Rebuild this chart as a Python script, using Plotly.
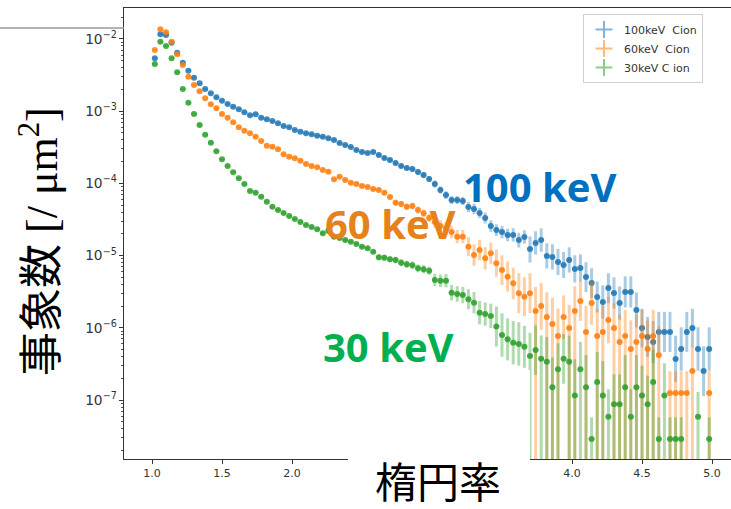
import plotly.graph_objects as go

# bin centres of the ellipticity histogram
x_centers = [1.02, 1.06, 1.10, 1.14, 1.18, 1.22, 1.26, 1.30, 1.34, 1.38,
             1.42, 1.46, 1.50, 1.54, 1.58, 1.62, 1.66, 1.70, 1.74, 1.78,
             1.82, 1.86, 1.90, 1.94, 1.98, 2.02, 2.06, 2.10, 2.14, 2.18,
             2.22, 2.26, 2.30, 2.34, 2.38, 2.42, 2.46, 2.50, 2.54, 2.58,
             2.62, 2.66, 2.70, 2.74, 2.78, 2.82, 2.86, 2.90, 2.94, 2.98,
             3.02, 3.06, 3.10, 3.14, 3.18, 3.22, 3.26, 3.30, 3.34, 3.38,
             3.42, 3.46, 3.50, 3.54, 3.58, 3.62, 3.66, 3.70, 3.74, 3.78,
             3.82, 3.86, 3.90, 3.94, 3.98, 4.02, 4.06, 4.10, 4.14, 4.18,
             4.22, 4.26, 4.30, 4.34, 4.38, 4.42, 4.46, 4.50, 4.54, 4.58,
             4.62, 4.66, 4.70, 4.74, 4.78, 4.82, 4.86, 4.90, 4.94, 4.98]

blue_vals = [5.41e-3, 1.16e-2, 1.135e-2, 8.9e-3, 6.46e-3, 4.70e-3, 3.64e-3, 2.91e-3, 2.43e-3, 2.03e-3,
             1.77e-3, 1.56e-3, 1.40e-3, 1.26e-3, 1.15e-3, 1.06e-3, 9.66e-4, 8.77e-4, 9.06e-4, 8.13e-4,
             7.73e-4, 7.31e-4, 6.79e-4, 6.24e-4, 5.98e-4, 5.50e-4, 5.20e-4, 4.94e-4, 4.79e-4, 4.58e-4,
             4.44e-4, 4.22e-4, 3.99e-4, 3.63e-4, 3.40e-4, 3.19e-4, 2.90e-4, 2.72e-4, 2.64e-4, 2.72e-4,
             2.47e-4, 2.25e-4, 2.11e-4, 1.92e-4, 1.74e-4, 1.63e-4, 1.58e-4, 1.44e-4, 1.31e-4, 1.15e-4,
             9.82e-5, 8.11e-5, 6.90e-5, 5.89e-5, 5.89e-5, 5.70e-5, 4.71e-5, 4.42e-5, 3.89e-5, 3.32e-5,
             2.57e-5, 2.26e-5, 2.12e-5, 1.93e-5, 1.93e-5, 1.64e-5, 1.81e-5, 1.23e-5, 1.50e-5, 1.64e-5,
             9.87e-6, 9.57e-6, 8.15e-6, 7.41e-6, 8.69e-6, 6.52e-6, 6.73e-6, 5.06e-6, 4.17e-6, 2.67e-6,
             2.28e-6, 3.56e-6, 3.03e-6, 2.20e-6, 3.13e-6, 3.13e-6, 1.77e-6, 9.93e-7, 7.46e-7, 6.35e-7,
             8.75e-7, 8.75e-7, 8.75e-7, 3.70e-7, 5.08e-7, 8.75e-7, 9.93e-7, 5.08e-7, 2.52e-7, 5.08e-7]

orange_vals = [7.05e-3, 1.36e-2, 1.24e-2, 9.18e-3, 6.14e-3, 4.37e-3, 3.01e-3, 2.31e-3, 1.89e-3, 1.51e-3,
               1.25e-3, 1.10e-3, 9.15e-4, 8.13e-4, 7.02e-4, 5.98e-4, 5.37e-4, 4.94e-4, 4.44e-4, 3.86e-4,
               3.33e-4, 3.22e-4, 2.96e-4, 2.53e-4, 2.34e-4, 2.23e-4, 2.06e-4, 1.86e-4, 1.74e-4, 1.67e-4,
               1.53e-4, 1.45e-4, 1.14e-4, 1.24e-4, 1.11e-4, 1.02e-4, 9.82e-5, 9.21e-5, 8.91e-5, 8.36e-5,
               8.11e-5, 7.43e-5, 6.49e-5, 5.41e-5, 5.19e-5, 4.75e-5, 4.86e-5, 4.29e-5, 3.85e-5, 3.32e-5,
               2.92e-5, 2.57e-5, 2.39e-5, 2.12e-5, 1.83e-5, 1.83e-5, 1.33e-5, 1.02e-5, 1.20e-5, 9.18e-6,
               1.08e-5, 7.82e-6, 6.32e-6, 5.11e-6, 4.13e-6, 3.01e-6, 2.70e-6, 3.01e-6, 1.71e-6, 2.00e-6,
               1.41e-6, 1.13e-6, 7.69e-7, 1.41e-6, 9.93e-7, 1.71e-6, 2.35e-6, 8.75e-7, 2.20e-6, 7.69e-7,
               8.75e-7, 1.28e-6, 9.93e-7, 6.35e-7, 7.69e-7, 5.08e-7, 6.35e-7, 7.69e-7, 5.08e-7, 7.69e-7,
               4.20e-7, None, 1.25e-7, 1.25e-7, 1.25e-7, 1.25e-7, 2.52e-7, None, None, 1.25e-7]

green_vals = [4.51e-3, 9.18e-3, 8.00e-3, 5.41e-3, 3.46e-3, 2.03e-3, 1.31e-3, 9.15e-4, 6.44e-4, 4.73e-4,
              3.66e-4, 2.79e-4, 2.16e-4, 1.74e-4, 1.43e-4, 1.18e-4, 9.82e-5, 7.85e-5, 7.43e-5, 6.55e-5,
              5.58e-5, 4.75e-5, 4.29e-5, 3.89e-5, 3.53e-5, 3.21e-5, 2.92e-5, 2.65e-5, 2.49e-5, 2.31e-5,
              2.04e-5, 2.21e-5, 1.83e-5, 1.75e-5, 1.64e-5, 1.56e-5, 1.45e-5, 1.33e-5, 1.26e-5, 1.13e-5,
              9.46e-6, 9.35e-6, 8.89e-6, 8.69e-6, 7.98e-6, 7.59e-6, 7.35e-6, 6.67e-6, 6.46e-6, 6.18e-6,
              4.59e-6, 4.49e-6, 4.49e-6, 3.06e-6, 2.94e-6, 2.84e-6, 2.48e-6, 2.23e-6, 1.62e-6, 1.55e-6,
              1.46e-6, 1.04e-6, 7.94e-7, 6.93e-7, 6.22e-7, 5.97e-7, 5.47e-7, 4.06e-7, 4.93e-7, 3.73e-7,
              3.39e-7, 1.50e-7, 2.66e-7, 3.73e-7, 3.39e-7, 1.15e-7, 2.66e-7, 1.50e-7, 2.88e-8, 1.77e-7,
              1.15e-7, 5.87e-8, 8.71e-8, 8.71e-8, 1.50e-7, 5.87e-8, 1.50e-7, 1.15e-7, 8.71e-8, 1.77e-7,
              2.88e-8, 1.15e-7, 2.88e-8, 2.88e-8, 2.88e-8, None, None, 5.87e-8, None, 2.88e-8]

# relative error (upper / lower) per bin
blue_err_up = [0.01, 0.01, 0.01, 0.01, 0.01, 0.01, 0.01, 0.01, 0.01, 0.01,
               0.02, 0.02, 0.02, 0.02, 0.02, 0.02, 0.02, 0.02, 0.02, 0.02,
               0.03, 0.03, 0.03, 0.03, 0.03, 0.03, 0.03, 0.03, 0.03, 0.03,
               0.04, 0.04, 0.04, 0.04, 0.04, 0.04, 0.04, 0.04, 0.04, 0.04,
               0.06, 0.06, 0.07, 0.07, 0.08, 0.08, 0.09, 0.09, 0.10, 0.10,
               0.12, 0.12, 0.13, 0.13, 0.14, 0.14, 0.17, 0.18, 0.18, 0.19,
               0.20, 0.20, 0.22, 0.22, 0.24, 0.26, 0.24, 0.50, 0.45, 0.45,
               0.50, 0.50, 0.52, 0.52, 0.50, 0.55, 0.55, 0.60, 0.60, 0.65,
               0.70, 0.60, 0.65, 0.70, 0.65, 0.65, 0.75, 0.85, 0.90, 0.95,
               0.90, 0.90, 0.90, 1.10, 1.00, 0.90, 0.85, 1.00, 1.20, 1.00]
blue_err_dn = [0.01, 0.01, 0.01, 0.01, 0.01, 0.01, 0.01, 0.01, 0.01, 0.01,
               0.02, 0.02, 0.02, 0.02, 0.02, 0.02, 0.02, 0.02, 0.02, 0.02,
               0.03, 0.03, 0.03, 0.03, 0.03, 0.03, 0.03, 0.03, 0.03, 0.03,
               0.04, 0.04, 0.04, 0.04, 0.04, 0.04, 0.04, 0.04, 0.04, 0.04,
               0.06, 0.06, 0.07, 0.07, 0.07, 0.07, 0.08, 0.08, 0.09, 0.09,
               0.11, 0.11, 0.12, 0.12, 0.12, 0.12, 0.15, 0.15, 0.15, 0.16,
               0.17, 0.17, 0.18, 0.18, 0.19, 0.21, 0.19, 0.35, 0.31, 0.31,
               0.33, 0.33, 0.34, 0.34, 0.33, 0.35, 0.35, 0.38, 0.38, 0.39,
               0.41, 0.38, 0.39, 0.41, 0.39, 0.39, 0.43, 0.46, 0.47, 0.49,
               0.47, 0.47, 0.47, 0.52, 0.50, 0.47, 0.46, 0.50, 0.55, 0.50]

orange_err_up = [0.01, 0.01, 0.01, 0.01, 0.01, 0.01, 0.01, 0.01, 0.01, 0.01,
                 0.02, 0.02, 0.02, 0.02, 0.02, 0.02, 0.02, 0.02, 0.02, 0.02,
                 0.03, 0.03, 0.03, 0.03, 0.03, 0.03, 0.03, 0.03, 0.03, 0.03,
                 0.04, 0.04, 0.04, 0.04, 0.04, 0.05, 0.05, 0.05, 0.05, 0.05,
                 0.06, 0.07, 0.08, 0.10, 0.10, 0.11, 0.11, 0.12, 0.13, 0.14,
                 0.20, 0.20, 0.22, 0.22, 0.24, 0.24, 0.35, 0.40, 0.38, 0.42,
                 0.40, 0.55, 0.60, 0.62, 0.65, 0.90, 0.85, 0.90, 1.15, 1.10,
                 1.20, 1.30, 1.40, 1.00, 1.10, 1.20, 0.90, 1.30, 1.00, 1.40,
                 1.30, 1.10, 1.20, 1.40, 1.30, 1.50, 1.40, 1.30, 1.50, 1.30,
                 1.50, 1.00, 1.00, 1.00, 1.00, 1.00, 1.20, 1.00, 1.00, 1.00]
orange_err_dn = [0.01, 0.01, 0.01, 0.01, 0.01, 0.01, 0.01, 0.01, 0.01, 0.01,
                 0.02, 0.02, 0.02, 0.02, 0.02, 0.02, 0.02, 0.02, 0.02, 0.02,
                 0.03, 0.03, 0.03, 0.03, 0.03, 0.03, 0.03, 0.03, 0.03, 0.03,
                 0.04, 0.04, 0.04, 0.04, 0.04, 0.05, 0.05, 0.05, 0.05, 0.05,
                 0.06, 0.07, 0.08, 0.09, 0.09, 0.10, 0.10, 0.11, 0.12, 0.12,
                 0.17, 0.17, 0.18, 0.18, 0.19, 0.19, 0.26, 0.29, 0.28, 0.30,
                 0.29, 0.35, 0.38, 0.38, 0.40, 0.47, 0.46, 0.47, 1.00, 0.53,
                 1.00, 1.00, 1.00, 0.50, 1.00, 1.00, 0.47, 1.00, 0.50, 1.00,
                 1.00, 0.52, 1.00, 1.00, 1.00, 1.00, 1.00, 1.00, 1.00, 1.00,
                 1.00, 1.00, 1.00, 1.00, 1.00, 1.00, 1.00, 1.00, 1.00, 1.00]

green_err_up = [0.01, 0.01, 0.01, 0.01, 0.01, 0.01, 0.01, 0.01, 0.01, 0.01,
                0.02, 0.02, 0.02, 0.02, 0.02, 0.02, 0.02, 0.02, 0.02, 0.02,
                0.03, 0.03, 0.03, 0.03, 0.03, 0.03, 0.03, 0.03, 0.03, 0.03,
                0.05, 0.05, 0.05, 0.05, 0.05, 0.05, 0.05, 0.05, 0.05, 0.05,
                0.10, 0.10, 0.10, 0.11, 0.12, 0.12, 0.13, 0.13, 0.14, 0.14,
                0.22, 0.22, 0.24, 0.28, 0.28, 0.30, 0.38, 0.40, 0.45, 0.45,
                0.48, 0.90, 1.00, 0.95, 1.00, 1.00, 0.95, 1.10, 1.20, 1.10,
                1.20, 1.60, 1.30, 1.20, 1.30, 2.20, 1.40, 1.80, 1.00, 1.60,
                2.00, 1.40, 1.60, 1.60, 1.80, 1.40, 1.80, 1.60, 1.50, 1.80,
                1.00, 1.80, 1.00, 1.00, 1.00, 1.00, 1.00, 1.20, 1.00, 1.00]
green_err_dn = [0.01, 0.01, 0.01, 0.01, 0.01, 0.01, 0.01, 0.01, 0.01, 0.01,
                0.02, 0.02, 0.02, 0.02, 0.02, 0.02, 0.02, 0.02, 0.02, 0.02,
                0.03, 0.03, 0.03, 0.03, 0.03, 0.03, 0.03, 0.03, 0.03, 0.03,
                0.05, 0.05, 0.05, 0.05, 0.05, 0.05, 0.05, 0.05, 0.05, 0.05,
                0.09, 0.09, 0.09, 0.10, 0.11, 0.11, 0.12, 0.12, 0.12, 0.12,
                0.18, 0.18, 0.19, 0.22, 0.22, 0.23, 0.27, 0.29, 0.31, 0.31,
                0.32, 0.47, 0.50, 0.49, 0.50, 0.50, 0.49, 1.00, 0.55, 1.00,
                1.00, 1.00, 1.00, 0.55, 1.00, 1.00, 1.00, 1.00, 1.00, 1.00,
                1.00, 1.00, 1.00, 1.00, 1.00, 1.00, 1.00, 1.00, 1.00, 1.00,
                1.00, 1.00, 1.00, 1.00, 1.00, 1.00, 1.00, 1.00, 1.00, 1.00]

series_names = ["100keV  Cion", "60keV  Cion", "30keV C ion"]
x_ticks = [1.0, 1.5, 2.0, 2.5, 3.0, 3.5, 4.0, 4.5, 5.0]
# 2.5 - 3.5 are hidden behind the slide's x-label text box
x_tick_text = ["1.0", "1.5", "2.0", "", "", "", "4.0", "4.5", "5.0"]

series = [
    (series_names[0], blue_vals, blue_err_up, blue_err_dn, "#1f77b4", "31,119,180"),
    (series_names[1], orange_vals, orange_err_up, orange_err_dn, "#ff7f0e", "255,127,14"),
    (series_names[2], green_vals, green_err_up, green_err_dn, "#2ca02c", "44,160,44"),
]

fig = go.Figure()
for name, vals, up, dn, col, rgb in series:
    eu = [None if v is None else v * u for v, u in zip(vals, up)]
    ed = [None if v is None else v * min(d, 0.999) for v, d in zip(vals, dn)]
    fig.add_trace(go.Scatter(
        x=x_centers, y=vals, mode="markers", name=name, showlegend=False,
        marker=dict(color=col, size=6, opacity=0.85, line=dict(width=0)),
        error_y=dict(type="data", symmetric=False, array=eu, arrayminus=ed,
                     color=f"rgba({rgb},0.38)", thickness=3, width=0),
        error_x=dict(type="constant", value=0.02, color=f"rgba({rgb},0.38)",
                     thickness=2, width=0),
    ))

for name, vals, up, dn, col, rgb in series:
    fig.add_trace(go.Scatter(
        x=[None], y=[None], mode="markers", name=name, showlegend=True,
        marker=dict(symbol="cross-thin", size=13, color=f"rgba({rgb},0.55)",
                    line=dict(width=2.5, color=f"rgba({rgb},0.55)")),
    ))

W, H = 731, 509
ml, mt, mb = 124, 8, 50
pw, ph = W - ml, H - mt - mb
x0 = 0.8
xpx = 140.0  # px per unit


def px_to_paper_x(px):
    return (px - ml) / pw


def px_to_paper_y(py):
    return (H - mb - py) / ph


fig.update_layout(
    width=W, height=H,
    margin=dict(l=ml, r=0, t=mt, b=mb, pad=0),
    paper_bgcolor="white", plot_bgcolor="white",
    font=dict(family="DejaVu Sans", size=11, color="#333"),
    xaxis=dict(range=[x0, x0 + pw / xpx], tickvals=x_ticks, ticktext=x_tick_text,
               showgrid=False, zeroline=False, showline=True, linecolor="#333",
               linewidth=1, mirror=True, ticks="outside", ticklen=4,
               tickcolor="#333", tickfont=dict(size=11, color="#333")),
    yaxis=dict(type="log", range=[-7.817, -1.571], dtick=1,
               exponentformat="power", showexponent="all",
               showgrid=False, zeroline=False, showline=True, linecolor="#333",
               linewidth=1, ticks="outside", ticklen=4, tickcolor="#333",
               tickfont=dict(size=11, color="#333"),
               minor=dict(ticks="outside", ticklen=2, tickcolor="#555",
                          showgrid=False)),
    legend=dict(x=px_to_paper_x(583), y=px_to_paper_y(14), xanchor="left",
                yanchor="top", bgcolor="white", bordercolor="#d0d0d0",
                borderwidth=1, font=dict(size=11, color="#333"),
                itemsizing="constant"),
    showlegend=True,
)

fig.add_shape(type="rect", xref="paper", yref="paper",
              x0=px_to_paper_x(348), x1=px_to_paper_x(530),
              y0=px_to_paper_y(512), y1=px_to_paper_y(370),
              fillcolor="white", line=dict(width=0), layer="above")
fig.add_shape(type="line", xref="paper", yref="paper",
              x0=px_to_paper_x(0), x1=px_to_paper_x(124),
              y0=px_to_paper_y(28), y1=px_to_paper_y(28),
              line=dict(color="#9a9a9a", width=1.5), layer="above")

label_font = "Open Sans"


def add_label(text, cx, cy, size, color, family, angle=0):
    fig.add_annotation(text=text, xref="paper", yref="paper",
                       x=px_to_paper_x(cx), y=px_to_paper_y(cy),
                       xanchor="center", yanchor="middle", textangle=angle,
                       showarrow=False,
                       font=dict(family=family, size=size, color=color))


add_label("<b>100 keV</b>", 539, 186, 40, "#0070C0", label_font)
add_label("<b>60 keV</b>", 390, 224, 40, "#E6821A", label_font)
add_label("<b>30 keV</b>", 388, 346, 40, "#00B050", label_font)
add_label("楕円率", 438, 479, 42, "black", "Noto Sans CJK JP")
add_label("事象数 [/ μm<sup>2</sup>]", 40, 242, 44, "black",
          "Liberation Serif, Noto Sans CJK JP", angle=-90)

fig.write_html("out.html")
